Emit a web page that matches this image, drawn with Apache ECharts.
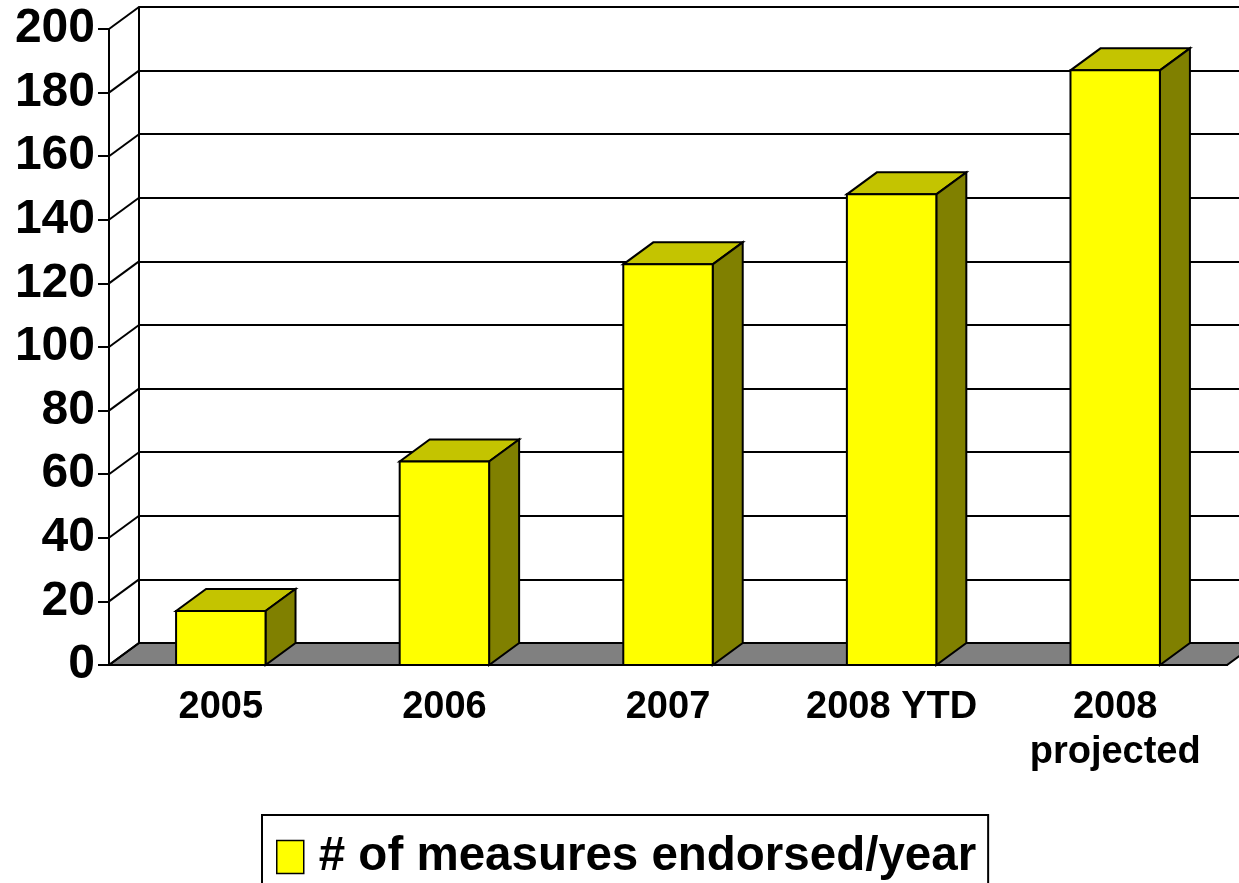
<!DOCTYPE html>
<html>
<head>
<meta charset="utf-8">
<style>
  html, body { margin: 0; padding: 0; background: #fff; }
  #main { width: 1239px; height: 883px; }
</style>
</head>
<body>
<div id="main"></div>
<script src="https://cdn.jsdelivr.net/npm/echarts@6/dist/echarts.min.js"></script>
<script>
// chart data
var categories = ['2005', '2006', '2007', '2008 YTD', '2008\nprojected'];
var measures = [17, 64, 126, 148, 187];
var wallLevels = [0, 20, 40, 60, 80, 100, 120, 140, 160, 180, 200];
var seriesName = '# of measures endorsed/year';

// depth of the fake 3d box
var DX = 30, DY = 22;
var FONT = 'Arial, "Liberation Sans", sans-serif';

var myChart = echarts.init(document.getElementById('main'));

function renderFloor(params, api) {
  var cs = params.coordSys;
  var y0 = api.coord([0, 0])[1];
  var x0 = cs.x, x1 = cs.x + cs.width;
  return {
    type: 'polygon',
    shape: { points: [[x0, y0], [x1, y0], [x1 + DX, y0 - DY], [x0 + DX, y0 - DY]] },
    style: { fill: '#808080', stroke: '#000', lineWidth: 2 }
  };
}

function renderWall(params, api) {
  var cs = params.coordSys;
  var y = api.coord([0, api.value(1)])[1];
  return {
    type: 'line',
    shape: { x1: cs.x, y1: y, x2: cs.x + DX, y2: y - DY },
    style: { stroke: '#000', lineWidth: 2 }
  };
}

function renderBar(params, api) {
  var i = api.value(0), v = api.value(1);
  var top = api.coord([i, v]);
  var base = api.coord([i, 0]);
  var w = api.size([1, 0])[0] * 0.4;
  var l = top[0] - w / 2, r = top[0] + w / 2, t = top[1], b = base[1];
  var line = { stroke: '#000', lineWidth: 2, lineJoin: 'miter' };
  return {
    type: 'group',
    children: [
      { type: 'polygon', shape: { points: [[l, t], [r, t], [r + DX, t - DY], [l + DX, t - DY]] },
        style: Object.assign({ fill: '#C4C400' }, line) },
      { type: 'polygon', shape: { points: [[r, b], [r, t], [r + DX, t - DY], [r + DX, b - DY]] },
        style: Object.assign({ fill: '#808000' }, line) },
      { type: 'rect', shape: { x: l, y: t, width: w, height: b - t },
        style: Object.assign({ fill: '#FFFF00' }, line) }
    ]
  };
}

var option = {
  animation: false,
  backgroundColor: '#fff',
  grid: [
    { left: 109, top: 29, width: 1118, height: 636 },   // front
    { left: 139, top: 7, width: 1118, height: 636 }     // back wall
  ],
  xAxis: [
    {
      type: 'category', gridIndex: 0, data: categories,
      axisLine: { lineStyle: { color: '#000', width: 2 } },
      axisTick: { length: 10, lineStyle: { color: '#000', width: 2 } },
      axisLabel: {
        color: '#000', fontFamily: FONT, fontWeight: 'bold', fontSize: 38,
        lineHeight: 45, margin: 20, interval: 0
      }
    },
    { type: 'category', gridIndex: 1, data: categories, show: false }
  ],
  yAxis: [
    {
      type: 'value', gridIndex: 0, min: 0, max: 200, interval: 20,
      axisLine: { show: true, lineStyle: { color: '#000', width: 2 } },
      axisTick: { show: true, length: 11, lineStyle: { color: '#000', width: 2 } },
      splitLine: { show: false },
      axisLabel: {
        color: '#000', fontFamily: FONT, fontWeight: 'bold',
        fontSize: 48, margin: 14
      }
    },
    {
      type: 'value', gridIndex: 1, min: 0, max: 200, interval: 20,
      axisLine: { show: true, lineStyle: { color: '#000', width: 2 } },
      axisTick: { show: false },
      axisLabel: { show: false },
      splitLine: { show: true, lineStyle: { color: '#000', width: 2 } }
    }
  ],
  legend: {
    left: 262, top: 815,
    padding: [18, 12, 40, 14],
    borderColor: '#000', borderWidth: 2, backgroundColor: '#fff',
    itemWidth: 27, itemHeight: 33,
    data: [{ name: seriesName, icon: 'rect',
      itemStyle: { color: '#FFFF00', borderColor: '#000', borderWidth: 1.5 } }],
    textStyle: { color: '#000', fontFamily: FONT, fontWeight: 'bold', fontSize: 47.5, padding: [0, 0, 0, 10] }
  },
  series: [
    {
      name: 'floor', type: 'custom', xAxisIndex: 0, yAxisIndex: 0,
      renderItem: renderFloor, data: [[0, 0]], silent: true, z: 1
    },
    {
      name: 'wall', type: 'custom', xAxisIndex: 0, yAxisIndex: 0,
      renderItem: renderWall, data: wallLevels.map(function (v) { return [0, v]; }),
      silent: true, z: 1
    },
    {
      name: seriesName, type: 'custom', xAxisIndex: 0, yAxisIndex: 0,
      itemStyle: { color: '#FFFF00' },
      renderItem: renderBar,
      encode: { x: 0, y: 1 },
      data: measures.map(function (v, i) { return [i, v]; }),
      z: 3
    }
  ]
};
myChart.setOption(option);
</script>
</body>
</html>
